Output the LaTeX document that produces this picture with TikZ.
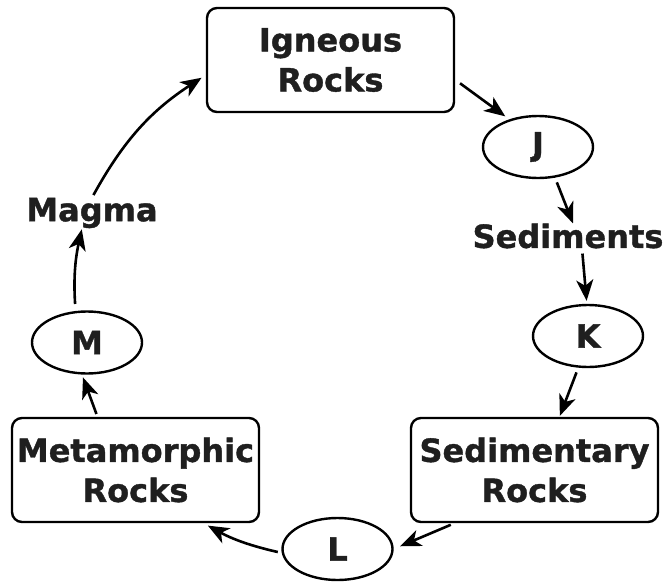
\documentclass[tikz,border=0pt]{standalone}
\usepackage{fontspec}
\setmainfont{DejaVu Sans}[BoldFeatures={FakeBold=1.2}]
\usetikzlibrary{shapes.geometric,arrows.meta}
\begin{document}
\begin{tikzpicture}[x=1pt,y=-1pt,
  every node/.style={font=\fontsize{32}{40}\selectfont\bfseries, text=black!88},
  rockbox/.style={draw, line width=2.4pt, rounded corners=10pt, minimum width=247pt, minimum height=104pt, align=center, inner sep=0pt},
  stage/.style={draw, ellipse, line width=2.4pt, minimum width=110pt, minimum height=62pt, inner sep=0pt},
  lbl/.style={inner sep=0pt},
  arr/.style={line width=2.6pt, -{Stealth[length=21pt,width=17pt,inset=6pt]}}]
\useasboundingbox (0,0) rectangle (665,582);
\node[rockbox] (ign)  at (330.5,60)  {Igneous\\Rocks};
\node[rockbox] (sedr) at (534.5,470) {Sedimentary\\Rocks};
\node[rockbox] (meta) at (135.5,470) {Metamorphic\\Rocks};
\node[stage] (J) at (538,147)   {J};
\node[stage] (K) at (588,336)   {K};
\node[stage] (L) at (337.5,549) {L};
\node[stage] (M) at (87,342.5)  {M};
\node[lbl] (sedt)  at (568,236) {Sediments};
\node[lbl] (magma) at (92,213)  {Magma};
\draw[arr, shorten <=6pt, shorten >=5pt] (ign.-9) -- (J.136);
\draw[arr, shorten <=5pt] (J.-61) -- ([xshift=5pt]sedt.north);
\draw[arr, shorten <=5pt, shorten >=3pt] ([xshift=14pt]sedt.south) -- (K.92);
\draw[arr, shorten <=5pt, shorten >=1pt] (K.-107) -- ([xshift=25pt]sedr.north);
\draw[arr, shorten <=4pt, shorten >=7pt] ([xshift=-80pt]sedr.south) -- (L.east);
\draw[arr, shorten <=4pt, shorten >=5pt] (L.184) to[bend left=8] ([xshift=68pt]meta.south);
\draw[arr, shorten <=3pt, shorten >=3pt] ([xshift=-38pt]meta.north) -- (M.-99);
\draw[arr, shorten <=7pt, shorten >=1pt] (M.110) to[bend left=8] ([xshift=-10pt]magma.south);
\draw[arr, shorten <=3pt, shorten >=5pt] (magma.north) to[bend left=14] ([yshift=-15pt]ign.west);
\end{tikzpicture}
\end{document}
